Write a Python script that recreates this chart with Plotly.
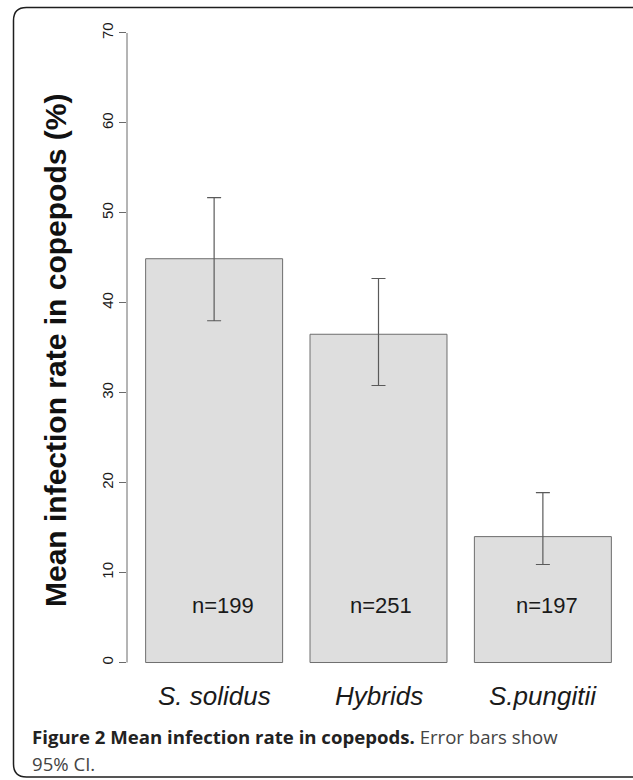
import plotly.graph_objects as go

# ---- data ----
categories = ["S. solidus", "Hybrids", "S.pungitii"]
mean_rate = [44.9, 36.5, 14.0]
ci_upper = [51.7, 42.7, 18.9]
ci_lower = [38.0, 30.8, 10.9]
n_labels = ["n=199", "n=251", "n=197"]
n_label_x = [0.055, 1.015, 2.025]
n_label_y = [6.3, 6.3, 6.3]
y_ticks = [0, 10, 20, 30, 40, 50, 60, 70]

W, H = 633, 780
def px(X):
    return X / W
def py(Y):
    return 1 - Y / H

FONT = "Liberation Sans, Arial, sans-serif"

fig = go.Figure()
fig.add_trace(go.Bar(
    x=categories, y=mean_rate,
    marker=dict(color="#dedede", line=dict(color="#6e6e6e", width=1)),
    error_y=dict(type="data",
                 array=[u - m for u, m in zip(ci_upper, mean_rate)],
                 arrayminus=[m - l for m, l in zip(mean_rate, ci_lower)],
                 color="#5a5a5a", thickness=1.2, width=7),
    showlegend=False, hoverinfo="skip",
))

annotations = []
# n labels
for xv, yv, t in zip(n_label_x, n_label_y, n_labels):
    annotations.append(dict(x=xv, y=yv, xref="x", yref="y", text=t, showarrow=False,
                            font=dict(family=FONT, size=22, color="#1a1a1a"),
                            xanchor="center", yanchor="middle"))
# category labels
for i, c in enumerate(categories):
    annotations.append(dict(x=i, y=py(696), xref="x", yref="paper", text="<i>%s</i>" % c,
                            showarrow=False, font=dict(family=FONT, size=26, color="#1a1a1a"),
                            xanchor="center", yanchor="middle"))
# y axis title
annotations.append(dict(x=px(56), y=py(351), xref="paper", yref="paper",
                        text="<b>Mean infection rate in copepods (%)</b>", textangle=-90,
                        showarrow=False, font=dict(family=FONT, size=30, color="#111"),
                        xanchor="center", yanchor="middle"))
# caption
CAP = "Open Sans, Noto Sans, sans-serif"
annotations.append(dict(x=px(30), y=py(736), xref="paper", yref="paper",
                        text="<b>Figure 2 Mean infection rate in copepods.</b> <span style='color:#444'>Error bars show</span>",
                        showarrow=False, font=dict(family=CAP, size=18.6, color="#222"),
                        xanchor="left", yanchor="middle"))
annotations.append(dict(x=px(30), y=py(763), xref="paper", yref="paper",
                        text="95% CI.", showarrow=False,
                        font=dict(family=CAP, size=18.6, color="#444"),
                        xanchor="left", yanchor="middle"))

# frame (rounded box)
L, T, R, B, r = 13.5, 7.5, 645, 777, 13
path = (f"M {px(L+r)},{py(T)} L {px(R-r)},{py(T)} Q {px(R)},{py(T)} {px(R)},{py(T+r)} "
        f"L {px(R)},{py(B-r)} Q {px(R)},{py(B)} {px(R-r)},{py(B)} "
        f"L {px(L+r)},{py(B)} Q {px(L)},{py(B)} {px(L)},{py(B-r)} "
        f"L {px(L)},{py(T+r)} Q {px(L)},{py(T)} {px(L+r)},{py(T)} Z")
shapes = [
    dict(type="path", path=path, xref="paper", yref="paper",
         line=dict(color="#1e1e1e", width=1.5)),
    dict(type="line", xref="paper", yref="y", x0=px(127), x1=px(127), y0=0, y1=70,
         line=dict(color="#6a6a6a", width=1)),
]

fig.update_layout(
    width=W, height=H,
    margin=dict(l=0, r=0, t=0, b=0),
    paper_bgcolor="white", plot_bgcolor="white",
    bargap=1/6,
    xaxis=dict(domain=[px(127), px(630)], range=[-0.53, 2.53], showticklabels=False,
               ticks="", showline=False, showgrid=False, zeroline=False, automargin=False,
               fixedrange=True),
    yaxis=dict(domain=[py(687.7), py(7.8)], range=[-2.8, 72.8], tickvals=y_ticks,
               ticks="outside", ticklen=7, tickcolor="#6a6a6a", tickwidth=1,
               tickangle=-90, tickfont=dict(family=FONT, size=15, color="#1a1a1a"),
               showline=False, showgrid=False, zeroline=False, automargin=False,
               ticklabelstandoff=0),
    annotations=annotations,
    shapes=shapes,
)

fig.write_html("out.html", config={"displayModeBar": False},
               post_script="document.body.style.margin='0';document.body.style.overflow='hidden';")
